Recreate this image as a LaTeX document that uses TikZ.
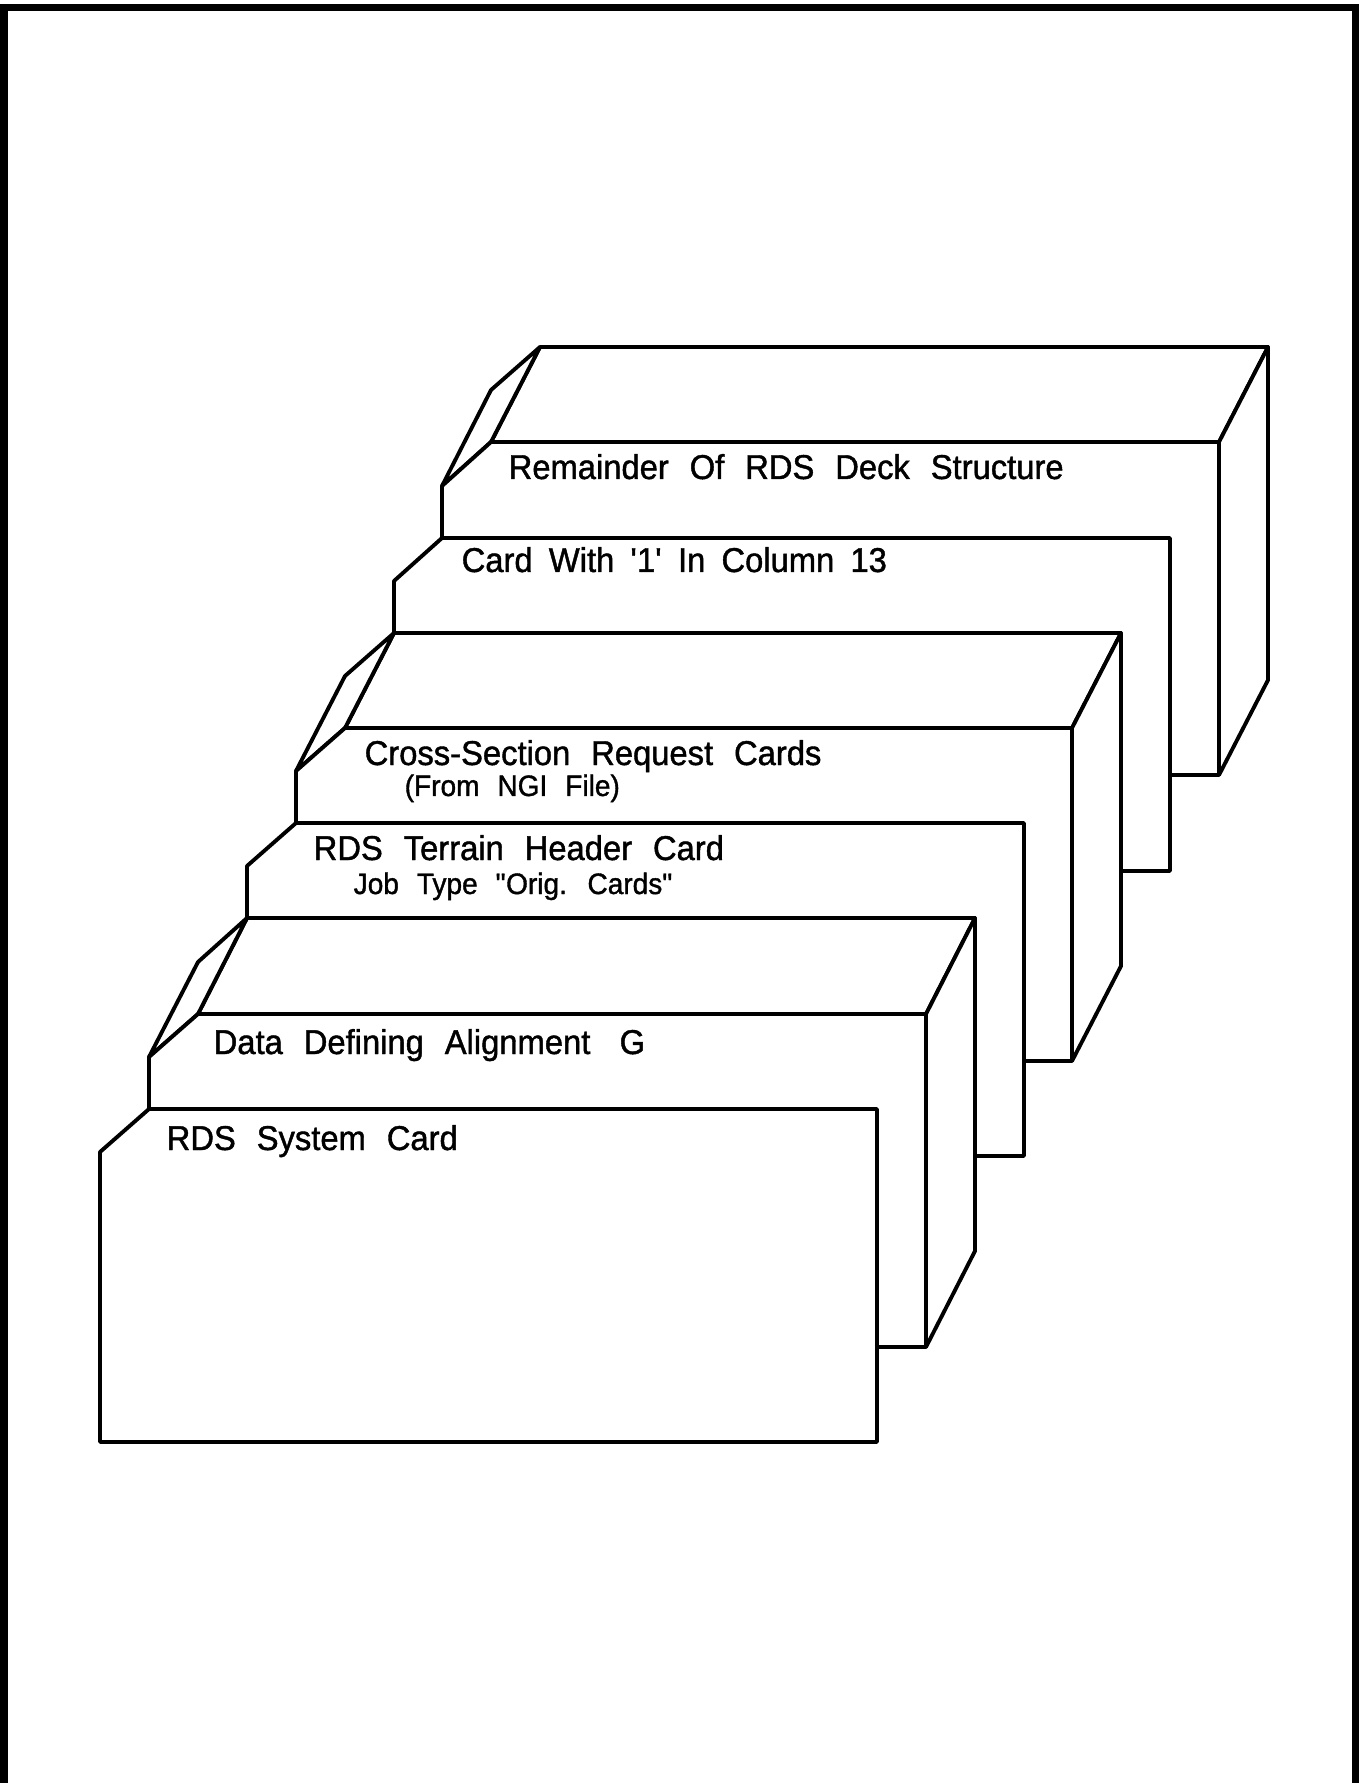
\documentclass[tikz,border=0pt]{standalone}
\usepackage{fontspec}
\setmainfont{Liberation Sans}[FakeStretch=0.95,WordSpace=2.3,FakeBold=1.2]

\begin{document}
\begin{tikzpicture}[x=0.01cm,y=-0.01cm,
  face/.style={draw,fill=white,line width=1.1pt,line join=round},
  cardtext/.style={anchor=base west,inner sep=0pt,font=\fontsize{9.8}{11}\selectfont},
  subtext/.style={anchor=base west,inner sep=0pt,font=\fontsize{8.4}{10}\selectfont}]
  \useasboundingbox (0,0) rectangle (1360,1783);
  \draw[line width=2pt] (4,1783) -- (4,8) -- (1355,8) -- (1355,1783);

  \draw[face] (540,347) -- (1268,347) -- (1219,442) -- (491,442) -- cycle;
  \draw[face] (1268,347) -- (1268,680) -- (1219,775) -- (1219,442) -- cycle;
  \draw[face] (540,347) -- (491,390) -- (442,486) -- (491,442) -- cycle;
  \draw[face] (491,442) -- (1219,442) -- (1219,775) -- (442,775) -- (442,486) -- cycle;
  \node[cardtext] (remainder) at (508,479) {Remainder Of RDS Deck Structure};

  \draw[face] (442,538) -- (1170,538) -- (1170,871) -- (394,871) -- (394,581) -- cycle;
  \node[cardtext] (col13) at (461,572)
    {\spaceskip=4.6pt Card With \textquotesingle1\textquotesingle\ In Column 13};

  \draw[face] (394,633) -- (1121,633) -- (1072,728) -- (345,728) -- cycle;
  \draw[face] (1121,633) -- (1121,966) -- (1072,1061) -- (1072,728) -- cycle;
  \draw[face] (394,633) -- (345,676) -- (296,771) -- (345,728) -- cycle;
  \draw[face] (345,728) -- (1072,728) -- (1072,1061) -- (296,1061) -- (296,771) -- cycle;
  \node[cardtext] (xsec) at (364,765) {Cross-Section Request Cards};
  \node[subtext] (ngi) at (404,796) {(From NGI File)};

  \draw[face] (296,823) -- (1024,823) -- (1024,1156) -- (247,1156) -- (247,866) -- cycle;
  \node[cardtext] (header) at (313,860) {RDS Terrain Header Card};
  \node[subtext] (jobtype) at (353,894) {Job Type \textquotedbl Orig. Cards\textquotedbl};

  \draw[face] (247,918) -- (975,918) -- (926,1014) -- (198,1014) -- cycle;
  \draw[face] (975,918) -- (975,1251) -- (926,1347) -- (926,1014) -- cycle;
  \draw[face] (247,918) -- (198,962) -- (149,1057) -- (198,1014) -- cycle;
  \draw[face] (198,1014) -- (926,1014) -- (926,1347) -- (149,1347) -- (149,1057) -- cycle;
  \node[cardtext] (align) at (213,1054) {Data Defining Alignment\hspace{0.85em}G};

  \draw[face] (149,1109) -- (877,1109) -- (877,1442) -- (100,1442) -- (100,1152) -- cycle;
  \node[cardtext] (system) at (166,1150) {RDS System Card};
\end{tikzpicture}
\end{document}
